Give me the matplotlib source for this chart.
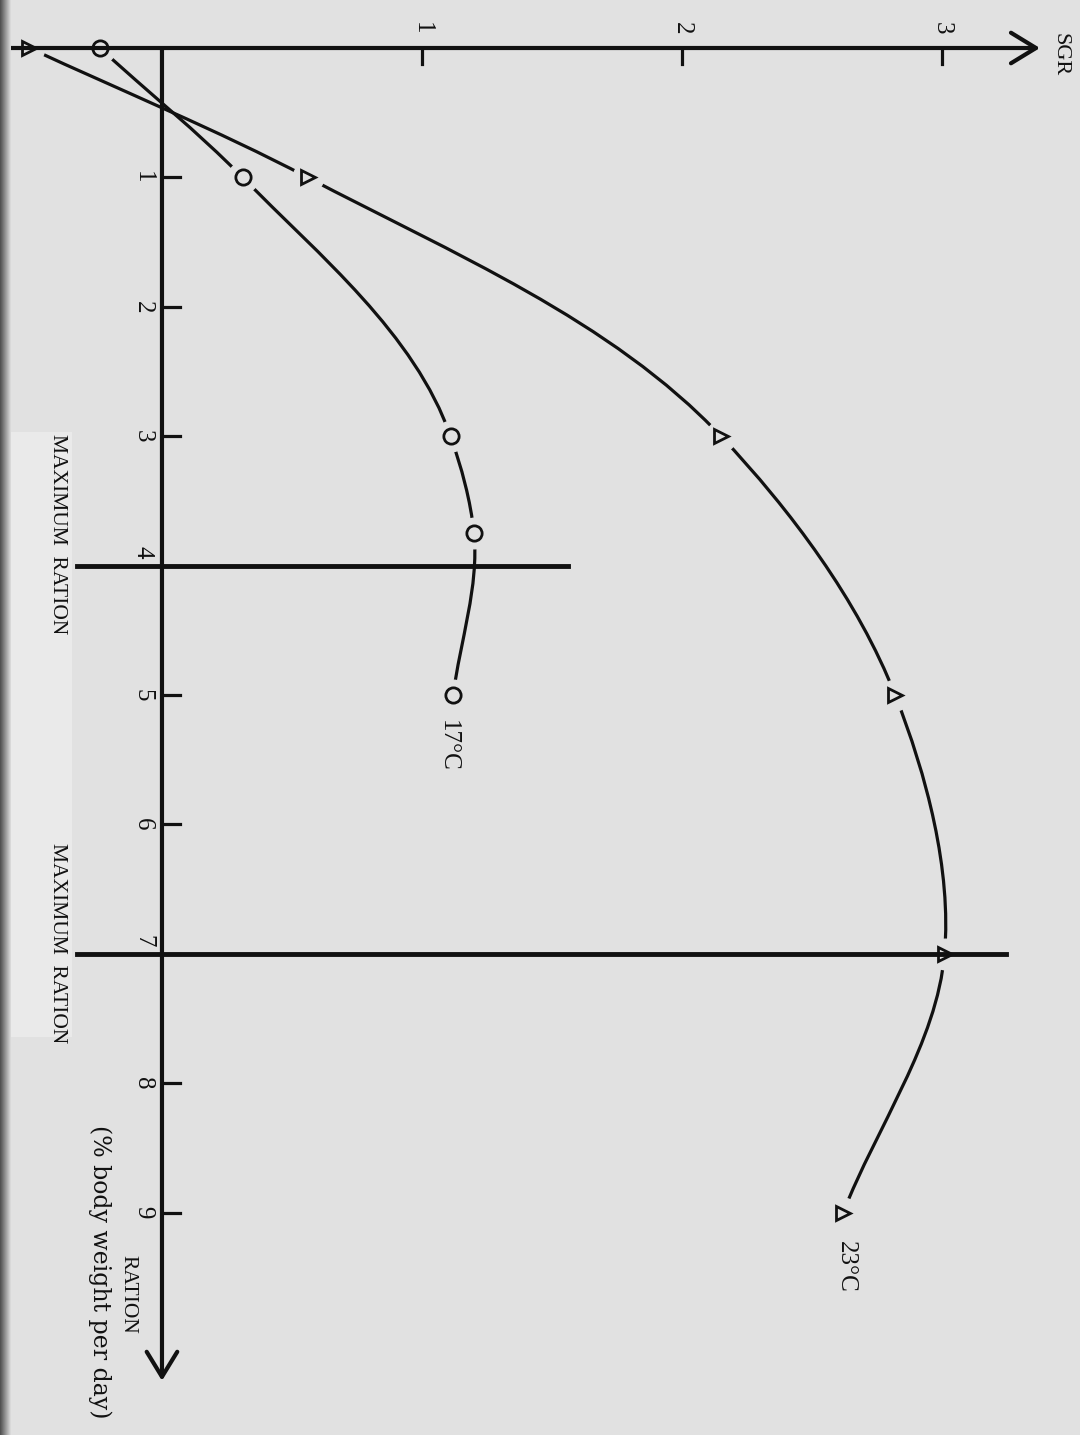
import numpy as np
import matplotlib.pyplot as plt
from matplotlib.path import Path
from matplotlib.patches import PathPatch, Rectangle

# Specific growth rate against ration, two temperatures
ration_17 = [0, 1, 3, 3.75, 5]
sgr_17 = [-0.24, 0.31, 1.11, 1.20, 1.12]

ration_23 = [0, 1, 3, 5, 7, 9]
sgr_23 = [-0.51, 0.56, 2.15, 2.82, 3.01, 2.62]

max_rations = [4, 7]
sgr_ticks = [1, 2, 3]
ration_ticks = [1, 2, 3, 4, 5, 6, 7, 8, 9]

bg = '#e1e1e1'
ink = '#111111'
serif = 'Liberation Serif'


def smooth_path(ax, xs, ys):
    # spline through the points as cubic Bezier segments, spaced by chord length on screen
    pts = np.column_stack([xs, ys]).astype(float)
    scr = ax.transData.transform(pts)
    dt = np.hypot(*np.diff(scr, axis=0).T)
    slopes = np.diff(pts, axis=0) / dt[:, None]
    m = np.empty_like(pts)
    m[0], m[-1] = slopes[0], slopes[-1]
    for i in range(1, len(pts) - 1):
        w = dt[i - 1] + dt[i]
        m[i] = slopes[i] * dt[i - 1] / w + slopes[i - 1] * dt[i] / w
    verts = [pts[0]]
    codes = [Path.MOVETO]
    for i in range(len(pts) - 1):
        verts += [pts[i] + m[i] * dt[i] / 3, pts[i + 1] - m[i + 1] * dt[i] / 3, pts[i + 1]]
        codes += [Path.CURVE4] * 3
    return Path(verts, codes)


fig = plt.figure(figsize=(10.8, 14.35), dpi=100, facecolor=bg)
ax = fig.add_axes([0, 0, 1, 1])
ax.set_facecolor(bg)
ax.set_xlim(-0.623, 3.531)
ax.set_ylim(10.719, -0.371)
ax.axis('off')

# pasted-on strip behind the maximum ration labels
ax.add_patch(Rectangle((-0.623, 2.97), 0.277, 4.67, facecolor='#eaeaea',
                       edgecolor='none', zorder=0))

# curves
for xs, ys in [(sgr_17, ration_17), (sgr_23, ration_23)]:
    ax.add_patch(PathPatch(smooth_path(ax, xs, ys), facecolor='none',
                           edgecolor=ink, lw=2.3, zorder=2))

# clear the curve around each point
ax.plot(sgr_17, ration_17, 'o', ms=22, mfc=bg, mec=bg, zorder=3)
ax.plot(sgr_23, ration_23, 'o', ms=22, mfc=bg, mec=bg, zorder=3)

# axes with arrows
arrow = dict(arrowstyle='->,head_length=0.9,head_width=0.55', lw=3,
             color=ink, shrinkA=0, shrinkB=0, mutation_scale=20)
ax.annotate('', xy=(3.377, 0), xytext=(-0.6, 0), arrowprops=arrow, zorder=4)
ax.annotate('', xy=(0, 10.3), xytext=(0, 0), arrowprops=arrow, zorder=4)

for t in sgr_ticks:
    ax.plot([t, t], [0, 0.12], color=ink, lw=2.3, zorder=4)
    ax.text(t, -0.155, str(t), rotation=-90, ha='center', va='center',
            fontsize=18, family=serif, color=ink)
for t in ration_ticks:
    ax.plot([0, 0.07], [t, t], color=ink, lw=2.3, zorder=4)
    # labels sitting on a maximum ration line are nudged up off it
    off = -0.1 if t in max_rations else 0
    ax.text(-0.073, t + off, str(t), rotation=-90, ha='center', va='center',
            fontsize=18, family=serif, color=ink)

# maximum ration lines
ax.plot([-0.327, 1.56], [max_rations[0]] * 2, color=ink, lw=3.5, zorder=4)
ax.plot([-0.327, 3.246], [max_rations[1]] * 2, color=ink, lw=3.5, zorder=4)
ax.text(-0.40, 3.76, 'MAXIMUM  RATION', rotation=-90, ha='center',
        va='center', fontsize=15.5, family=serif, color=ink)
ax.text(-0.40, 6.92, 'MAXIMUM  RATION', rotation=-90, ha='center',
        va='center', fontsize=15.5, family=serif, color=ink)

# markers
ax.plot(sgr_17, ration_17, 'o', ms=11, mfc='none', mec=ink, mew=2, zorder=5)
ax.plot(sgr_23, ration_23, '>', ms=10, mfc='none', mec=ink, mew=2, zorder=5)

ax.text(1.10, 5.39, '17°C', rotation=-90, ha='center', va='center',
        fontsize=18, family=serif, color=ink)
ax.text(2.63, 9.42, '23°C', rotation=-90, ha='center', va='center',
        fontsize=18, family=serif, color=ink)

# axis titles
ax.text(3.455, 0.05, 'SGR', rotation=-90, ha='center', va='center',
        fontsize=16, family=serif, color=ink)
ax.text(-0.131, 9.63, 'RATION', rotation=-90, ha='center', va='center',
        fontsize=15.5, family=serif, color=ink)
ax.text(-0.238, 9.46, '(% body weight per day)', rotation=-90, ha='center',
        va='center', fontsize=17, family='DejaVu Serif', color=ink)

# dark binding edge along the left side
edge = fig.add_axes([0, 0, 11 / 1080, 1])
grad = np.linspace(0.3, 0.87, 64)[None, :]
edge.imshow(grad, cmap='gray', vmin=0, vmax=1, aspect='auto')
edge.axis('off')

fig.savefig('out.png', dpi=100, facecolor=bg)
